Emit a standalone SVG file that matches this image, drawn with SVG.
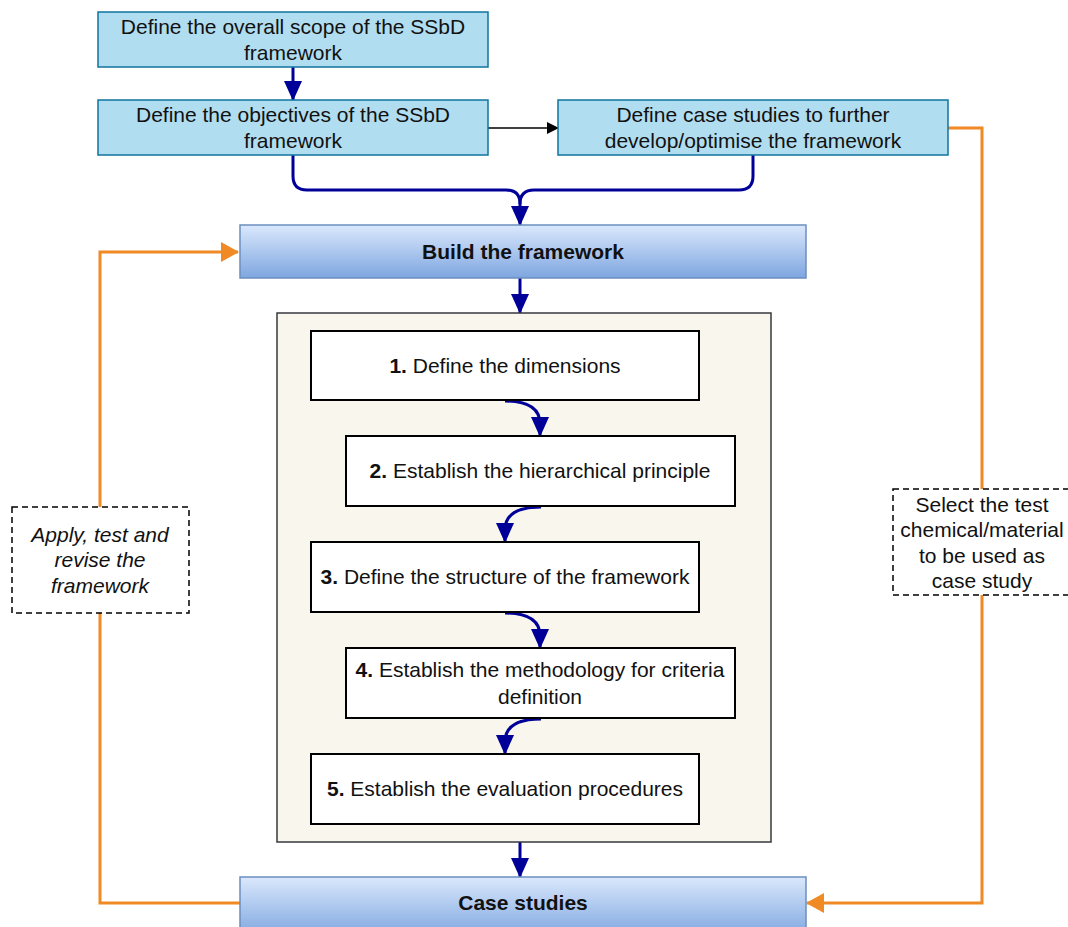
<svg xmlns="http://www.w3.org/2000/svg" width="1068" height="927" viewBox="0 0 1068 927">
<defs>
<linearGradient id="blueGrad" x1="0" y1="0" x2="0" y2="1">
<stop offset="0" stop-color="#DAE8FC"/>
<stop offset="1" stop-color="#7EA6E0"/>
</linearGradient>
<marker id="navyArrow" markerUnits="userSpaceOnUse" viewBox="0 0 20 18" markerWidth="20" markerHeight="18" refX="19" refY="9" orient="auto">
<path d="M0,0 L20,9 L0,18 Z" fill="#000099"/>
</marker>
<marker id="orangeArrow" markerUnits="userSpaceOnUse" viewBox="0 0 18 20" markerWidth="18" markerHeight="20" refX="17" refY="10" orient="auto">
<path d="M0,0 L18,10 L0,20 Z" fill="#F08A24"/>
</marker>
<marker id="blackArrow" markerUnits="userSpaceOnUse" viewBox="0 0 12 12" markerWidth="12" markerHeight="12" refX="11" refY="6" orient="auto">
<path d="M0,0 L12,6 L0,12 Z" fill="#000000"/>
</marker>
</defs>
<style>
text { font-family: "Liberation Sans", Arial, sans-serif; font-size: 21px; fill: #111111; text-anchor: middle; }
.b { font-weight: bold; }
.top { fill: #B1DDF0; stroke: #10739E; stroke-width: 1.5; }
.grad { fill: url(#blueGrad); stroke: #6C8EBF; stroke-width: 1.5; }
.step { fill: #FFFFFF; stroke: #000000; stroke-width: 2; }
.note { fill: #FFFFFF; stroke: #000000; stroke-width: 1.5; stroke-dasharray: 6 4; }
.navy { fill: none; stroke: #000099; stroke-width: 3; }
.orange { fill: none; stroke: #F08A24; stroke-width: 3; }
.black { fill: none; stroke: #000000; stroke-width: 1.5; }
</style>
<rect width="1068" height="927" fill="#FFFFFF"/>

<g id="connectors">
<path class="orange" d="M240,903 L100,903 L100,252 L238,252" marker-end="url(#orangeArrow)"/>
<path class="orange" d="M948,128 L982,128 L982,903 L807,903" marker-end="url(#orangeArrow)"/>
<path class="navy" d="M293,67 L293,100" marker-end="url(#navyArrow)"/>
<path class="black" d="M488,128 L558,128" marker-end="url(#blackArrow)"/>
<path class="navy" d="M293,155 L293,176 Q293,190 307,190 L506,190 Q520,190 520,204 L520,225" marker-end="url(#navyArrow)"/>
<path class="navy" d="M753,155 L753,176 Q753,190 739,190 L534,190 Q520,190 520,204"/>
<path class="navy" d="M520,278 L520,313" marker-end="url(#navyArrow)"/>
<path class="navy" d="M520,842 L520,877" marker-end="url(#navyArrow)"/>
</g>

<g id="container">
<rect x="277" y="313" width="494" height="529" fill="#F9F7ED" stroke="#36393D" stroke-width="1.5"/>
</g>

<g id="inner-connectors">
<path class="navy" d="M505,401 Q540,401 540,424 L540,436" marker-end="url(#navyArrow)"/>
<path class="navy" d="M541,507 Q505,507 505,530 L505,542" marker-end="url(#navyArrow)"/>
<path class="navy" d="M505,613 Q540,613 540,636 L540,648" marker-end="url(#navyArrow)"/>
<path class="navy" d="M541,719 Q505,719 505,742 L505,754" marker-end="url(#navyArrow)"/>
</g>

<g id="node-scope">
<rect class="top" x="98" y="12" width="390" height="55"/>
<text x="293" y="34">Define the overall scope of the SSbD</text>
<text x="293" y="60">framework</text>
</g>
<g id="node-objectives">
<rect class="top" x="98" y="100" width="390" height="55"/>
<text x="293" y="122">Define the objectives of the SSbD</text>
<text x="293" y="148">framework</text>
</g>
<g id="node-casestudies-def">
<rect class="top" x="558" y="100" width="390" height="55"/>
<text x="753" y="122">Define case studies to further</text>
<text x="753" y="148">develop/optimise the framework</text>
</g>
<g id="node-build">
<rect class="grad" x="240" y="225" width="566" height="53"/>
<text class="b" x="523" y="259">Build the framework</text>
</g>
<g id="node-step1">
<rect class="step" x="311" y="331" width="388" height="69"/>
<text x="505" y="373"><tspan class="b">1.</tspan> Define the dimensions</text>
</g>
<g id="node-step2">
<rect class="step" x="346" y="436" width="389" height="70"/>
<text x="540" y="478"><tspan class="b">2.</tspan> Establish the hierarchical principle</text>
</g>
<g id="node-step3">
<rect class="step" x="311" y="542" width="388" height="70"/>
<text x="505" y="584"><tspan class="b">3.</tspan> Define the structure of the framework</text>
</g>
<g id="node-step4">
<rect class="step" x="346" y="648" width="389" height="70"/>
<text x="540" y="677"><tspan class="b">4.</tspan> Establish the methodology for criteria</text>
<text x="540" y="704">definition</text>
</g>
<g id="node-step5">
<rect class="step" x="311" y="754" width="388" height="70"/>
<text x="505" y="796"><tspan class="b">5.</tspan> Establish the evaluation procedures</text>
</g>
<g id="node-casestudies">
<rect class="grad" x="240" y="877" width="566" height="60"/>
<text class="b" x="523" y="910">Case studies</text>
</g>
<g id="note-apply">
<rect class="note" x="12" y="507" width="177" height="106"/>
<text x="100" y="542" font-size="20" font-style="italic">Apply, test and</text>
<text x="100" y="567" font-size="20" font-style="italic">revise the</text>
<text x="100" y="593" font-size="20" font-style="italic">framework</text>
</g>
<g id="note-select">
<rect class="note" x="893" y="489" width="180" height="106"/>
<text x="982" y="512">Select the test</text>
<text x="982" y="537">chemical/material</text>
<text x="982" y="563">to be used as</text>
<text x="982" y="588">case study</text>
</g>
</svg>
